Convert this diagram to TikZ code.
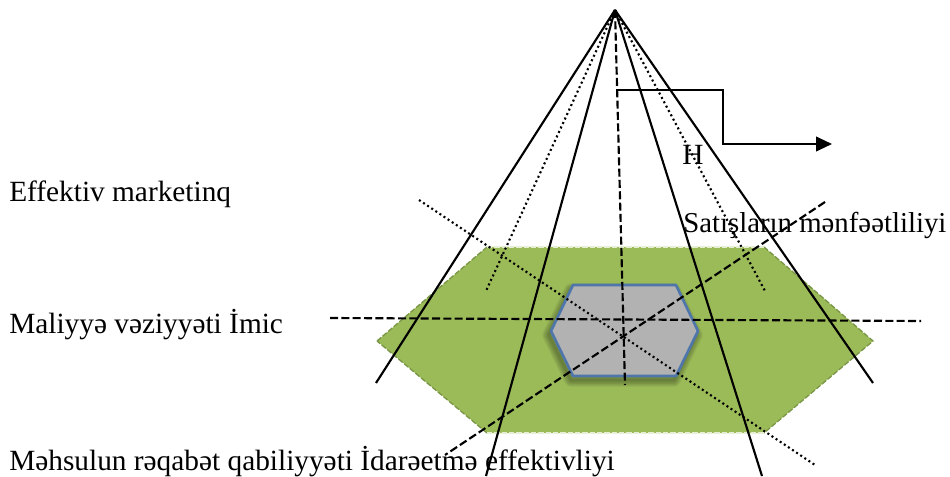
\documentclass[tikz,border=0pt]{standalone}
\usepackage{fontspec}
\setmainfont{Liberation Serif}
\usetikzlibrary{arrows.meta}

\definecolor{basegreen}{RGB}{155,187,89}
\definecolor{baseedge}{RGB}{122,150,70}
\definecolor{coregray}{RGB}{178,178,178}
\definecolor{coreblue}{RGB}{79,118,170}

\tikzset{
  label/.style={font=\fontsize{22}{24}\selectfont, inner sep=0pt, anchor=base west},
  edge/.style={black, line width=1.6},
  dotline/.style={black, line width=1.6, dash pattern=on 1.5pt off 2.2pt},
  dashline/.style={black, line width=1.6, dash pattern=on 6pt off 2.5pt}
}

\begin{document}
\begin{tikzpicture}[x=0.75pt,y=-0.75pt]

\useasboundingbox (0,0) rectangle (950,477);

% hexagons
\fill[basegreen] (377,341) -- (487,247) -- (764,247) -- (873,341) -- (764,433) -- (487,433) -- cycle;
\draw[baseedge, line width=1, dash pattern=on 4pt off 1.5pt] (377,341) -- (487,247);
\draw[baseedge, line width=1, dash pattern=on 4pt off 1.5pt] (764,247) -- (873,341) -- (764,433);
\draw[baseedge, line width=1, dash pattern=on 4pt off 1.5pt] (487,433) -- (377,341);
\draw[white!75!basegreen, line width=1, dash pattern=on 4pt off 1.5pt] (487,247) -- (764,247);
\draw[white!75!basegreen, line width=1, dash pattern=on 4pt off 1.5pt] (487,433) -- (764,433);

\foreach \w in {2,4,...,10} {
  \draw[black, opacity=0.07, line width=\w, line join=round] (549,335) -- (571,290) -- (674,290) -- (696,335) -- (674,380) -- (571,380) -- cycle;
}
\draw[coreblue, fill=coregray, line width=2, line join=round] (551,331) -- (573,285) -- (676,285) -- (698,331) -- (676,376) -- (573,376) -- cycle;

% apex and ends
\coordinate (apex) at (615,10);
\coordinate (e1) at (376,383);
\coordinate (e2) at (486,476);
\coordinate (e3) at (762,476);
\coordinate (e4) at (873,383);
\coordinate (d1) at (486,291);
\coordinate (d2) at (765,291);
\coordinate (axis) at (625,385);

\foreach \e in {e1,e2,e3,e4} {
  \draw[edge] (apex) -- (\e);
}
\foreach \e in {d1,d2} {
  \draw[dotline] (apex) -- (\e);
}
\draw[dashline] (apex) -- (axis);

% crossing lines
\coordinate (c1) at (419,200);
\coordinate (c2) at (815,465);
\coordinate (c3) at (330,318);
\coordinate (c4) at (921,321);
\coordinate (c5) at (825,202);
\coordinate (c6) at (445,455);
\draw[dotline] (c1) -- (c2);
\draw[dashline] (c3) -- (c4);
\draw[dashline] (c5) -- (c6);

% arrow
\coordinate (h0) at (616,90);
\coordinate (h1) at (832,144);
\draw[black, line width=1.5, -{Triangle[length=12pt,width=11pt]}] (h0) -- (723,90) -- (723,144) -- (h1);

% labels
\node[label] (h) at (682,165) {H};
\node[label] (marketing) at (9,202) {Effektiv marketinq};
\node[label, font=\fontsize{21.6}{24}\selectfont] (sales) at (683,233) {Satışların mənfəətliliyi};
\node[label] (finance) at (9,334) {Maliyyə vəziyyəti İmic};
\node[label] (product) at (9,470) {Məhsulun rəqabət qabiliyyəti İdarəetmə effektivliyi};

\end{tikzpicture}
\end{document}
